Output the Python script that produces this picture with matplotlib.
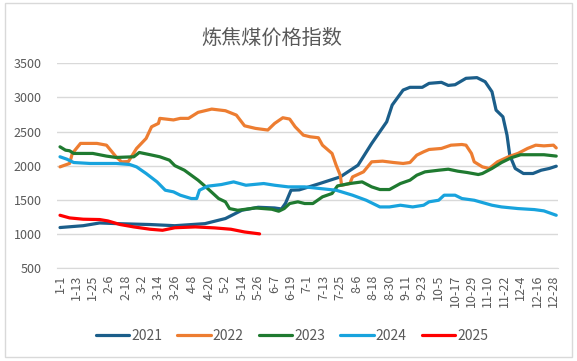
import datetime as dt
import matplotlib
matplotlib.use("Agg")
import matplotlib.pyplot as plt
from matplotlib.patches import Rectangle

plt.rcParams['font.family'] = ['Noto Sans CJK SC', 'DejaVu Sans']

# day of year (1 = Jan 1) and index values
day_2021 = [1, 18, 30, 43, 67, 85, 107, 122, 134, 146, 158, 163, 166, 170, 176, 191, 206,
            219, 229, 240, 244, 252, 257, 266, 271, 280, 285, 290, 298, 306, 312, 317,
            320, 325, 328, 330, 334, 340, 347, 353, 359, 364]
val_2021 = [1093, 1120, 1160, 1150, 1137, 1120, 1150, 1225, 1346, 1390, 1380, 1365, 1450,
            1640, 1645, 1738, 1835, 2007, 2325, 2643, 2888, 3108, 3148, 3148, 3206, 3221,
            3176, 3186, 3280, 3290, 3230, 3083, 2814, 2716, 2447, 2154, 1959, 1885, 1885,
            1933, 1959, 1992]

day_2022 = [1, 8, 10, 16, 28, 35, 38, 42, 46, 51, 57, 64, 68, 73, 74, 84, 89, 95, 102, 112,
            122, 130, 136, 144, 153, 158, 164, 169, 173, 179, 184, 190, 193, 200, 203, 206,
            207, 213, 215, 223, 229, 237, 245, 252, 257, 262, 267, 271, 280, 287, 295, 298,
            302, 304, 310, 315, 321, 329, 336, 343, 349, 355, 362, 364]
val_2022 = [1982, 2032, 2179, 2326, 2326, 2300, 2227, 2130, 2056, 2060, 2252, 2399, 2570,
            2619, 2693, 2670, 2693, 2693, 2781, 2829, 2805, 2741, 2584, 2546, 2522, 2619,
            2702, 2683, 2570, 2447, 2423, 2409, 2300, 2179, 2007, 1860, 1713, 1738, 1835,
            1909, 2056, 2066, 2046, 2032, 2046, 2154, 2203, 2237, 2252, 2300, 2310, 2300,
            2179, 2056, 1982, 1959, 2056, 2130, 2179, 2252, 2300, 2290, 2300, 2260]

day_2023 = [1, 5, 8, 11, 25, 35, 42, 55, 59, 67, 74, 81, 85, 92, 102, 109, 117, 122, 125,
            131, 144, 156, 161, 165, 169, 175, 180, 186, 193, 200, 204, 213, 222, 229, 235,
            242, 250, 257, 262, 268, 278, 285, 292, 299, 307, 310, 317, 324, 331, 338, 348,
            355, 364]
val_2023 = [2276, 2227, 2218, 2179, 2179, 2140, 2120, 2130, 2193, 2160, 2130, 2081, 2000,
            1933, 1787, 1665, 1518, 1470, 1371, 1346, 1380, 1361, 1332, 1371, 1445, 1470,
            1445, 1445, 1543, 1592, 1703, 1738, 1762, 1689, 1650, 1650, 1738, 1787, 1860,
            1909, 1933, 1948, 1919, 1899, 1870, 1885, 1959, 2046, 2115, 2160, 2160, 2160,
            2140]

day_2024 = [1, 6, 11, 23, 42, 52, 57, 64, 72, 78, 84, 89, 97, 101, 103, 109, 119, 128, 137,
            150, 158, 168, 180, 191, 203, 215, 225, 235, 242, 250, 259, 267, 271, 278, 282,
            290, 295, 304, 317, 324, 336, 348, 355, 364]
val_2024 = [2130, 2095, 2046, 2032, 2032, 2017, 1982, 1885, 1762, 1640, 1616, 1567, 1518,
            1518, 1640, 1699, 1723, 1762, 1713, 1738, 1713, 1689, 1689, 1665, 1640, 1567,
            1493, 1395, 1395, 1420, 1395, 1420, 1470, 1493, 1567, 1567, 1518, 1493, 1420,
            1395, 1371, 1356, 1337, 1273]

day_2025 = [1, 8, 18, 30, 36, 45, 55, 67, 76, 85, 100, 114, 126, 136, 147]
val_2025 = [1273, 1234, 1215, 1210, 1190, 1137, 1102, 1068, 1053, 1090, 1102, 1088, 1068,
            1028, 1000]

tick_labels = ['1-1', '1-13', '1-25', '2-6', '2-18', '3-2', '3-14', '3-26', '4-8', '4-20',
               '5-2', '5-14', '5-26', '6-7', '6-19', '7-1', '7-13', '7-25', '8-6', '8-18',
               '8-30', '9-11', '9-23', '10-5', '10-17', '10-29', '11-10', '11-22', '12-4',
               '12-16', '12-28']

series = [
    ('2021', day_2021, val_2021, '#1B5E8A'),
    ('2022', day_2022, val_2022, '#ED7D31'),
    ('2023', day_2023, val_2023, '#1F7A30'),
    ('2024', day_2024, val_2024, '#18A3DD'),
    ('2025', day_2025, val_2025, '#FF0000'),
]


def day_of_year(label):
    m, d = label.split('-')
    return dt.date(2023, int(m), int(d)).timetuple().tm_yday


fig = plt.figure(figsize=(5.77, 3.61), dpi=100)
ax = fig.add_axes([57 / 577, 1 - 268 / 361, (558 - 57) / 577, (268 - 63.3) / 361])

for name, days, vals, color in series:
    ax.plot(days, vals, color=color, lw=2.3, label=name, solid_capstyle='round',
            solid_joinstyle='round')

ax.set_ylim(500, 3500)
ax.set_yticks(range(500, 3501, 500))
ax.set_xlim(-1.2, 365.3)
ax.set_xticks([day_of_year(t) for t in tick_labels])
ax.set_xticklabels(tick_labels, rotation=90)
ax.tick_params(axis='both', length=0, colors='#595959', labelsize=9)
ax.tick_params(axis='y', pad=11)
ax.tick_params(axis='x', pad=5)
ax.grid(axis='y', color='#D9D9D9', lw=1)
ax.set_axisbelow(True)
for s in ['top', 'right', 'left']:
    ax.spines[s].set_visible(False)
ax.spines['bottom'].set_color('#D9D9D9')

fig.text(272 / 577, 1 - 38 / 361, '炼焦煤价格指数', ha='center', va='center',
         fontsize=14.5, color='#595959')

fig.legend(loc='center', bbox_to_anchor=(292 / 577, 1 - 336 / 361), ncol=5,
           frameon=False, fontsize=10, labelcolor='#595959', handlelength=2.4,
           handletextpad=0.15, columnspacing=1.1)

fig.patches.append(Rectangle((5 / 577, 4 / 361), 567 / 577, 354 / 361,
                             transform=fig.transFigure, fill=False,
                             edgecolor='#D9D9D9', lw=1))

fig.savefig('out.png', dpi=100)
